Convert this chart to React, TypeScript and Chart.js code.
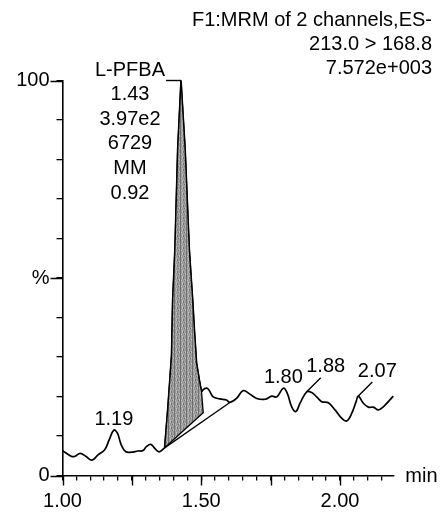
import React, { useEffect, useRef } from 'react';
import { Chart, registerables } from 'chart.js';

Chart.register(...registerables);

// ---- data ----
const traceTime = [
  1.000, 1.031, 1.043, 1.064, 1.085, 1.106, 1.128, 1.152, 1.168, 1.185, 1.198, 1.212, 1.228,
  1.248, 1.272, 1.290, 1.302, 1.318, 1.332, 1.348, 1.368,
  1.380, 1.393, 1.397, 1.405, 1.415, 1.427, 1.442, 1.457, 1.469, 1.476, 1.483, 1.493, 1.501,
  1.512, 1.525, 1.543, 1.567, 1.591, 1.603, 1.627, 1.651, 1.675, 1.700, 1.730, 1.754, 1.772,
  1.796, 1.810, 1.826, 1.841, 1.856, 1.880, 1.898, 1.916, 1.934, 1.958, 1.982, 2.006, 2.024,
  2.042, 2.058, 2.066, 2.084, 2.102, 2.120, 2.138, 2.156, 2.192,
];
const traceIntensity = [
  6.3, 4.9, 4.8, 5.6, 4.8, 3.9, 5.2, 6.5, 9.0, 11.5, 10.7, 7.7, 6.0,
  5.9, 6.2, 6.3, 7.3, 7.9, 6.9, 6.0, 7.0,
  17.5, 30.5, 44.4, 57.1, 82.4, 100, 82.4, 57.1, 44.4, 36.0, 28.5, 24.2, 21.2,
  22.0, 21.9, 19.9, 19.4, 19.1, 18.5, 19.5, 21.5, 20.6, 19.5, 19.3, 20.1, 19.9,
  22.1, 20.8, 17.4, 16.2, 18.3, 21.2, 21.0, 19.9, 18.7, 18.4, 16.6, 14.5, 13.8,
  15.7, 18.7, 20.1, 18.3, 17.3, 17.3, 16.6, 17.4, 20.1,
];
const peakStartTime = 1.368;
const peakEndTime = 1.501;
const areaCloseTime = [1.507, 1.368];
const areaCloseIntensity = [15.9, 7.0];
const baselineTime = [1.368, 1.603];
const baselineIntensity = [7.0, 18.5];

const peakLabelTime = [1.185, 1.796, 1.880, 2.066];
const peakLabelText = ['1.19', '1.80', '1.88', '2.07'];
const peakLabelLeader = [false, false, true, true];

const mainPeakTime = 1.427;
const mainPeakLines = ['L-PFBA', '1.43', '3.97e2', '6729', 'MM', '0.92'];
const headerLines = ['F1:MRM of 2 channels,ES-', '213.0 > 168.8', '7.572e+003'];

const xMin = 1.0;
const xMax = 2.192;
const xStep = 0.05;
const xLabelValues = [1.0, 1.5, 2.0];
const xMajorTicks = [1.0, 1.25, 1.5, 1.75, 2.0];
const xUnitLabel = 'min';

const yMin = 0;
const yMax = 100;
const yStep = 10;
const yLabelValues = [0, 50, 100];
const yLabelTexts = ['0', '%', '100'];

// ---- styling ----
const FONT = '"Liberation Sans", Arial, Helvetica, sans-serif';
const INK = '#000';

function makePattern(): CanvasPattern | string {
  const c = document.createElement('canvas');
  c.width = 6;
  c.height = 6;
  const g = c.getContext('2d');
  if (!g) return '#999';
  g.fillStyle = '#9c9c9c';
  g.fillRect(0, 0, 6, 6);
  g.fillStyle = '#6e6e6e';
  g.fillRect(0, 0, 1, 6);
  g.fillRect(3, 1, 1, 2);
  g.fillRect(4, 4, 1, 1);
  g.fillStyle = '#bdbdbd';
  g.fillRect(2, 0, 1, 3);
  g.fillRect(5, 3, 1, 2);
  g.fillRect(1, 4, 1, 1);
  const p = g.createPattern(c, 'repeat');
  return p || '#999';
}

const annotationPlugin = {
  id: 'annotations',
  afterDraw(chart: any) {
    const { ctx, chartArea } = chart;
    const xs = chart.scales.x;
    const ys = chart.scales.y;
    ctx.save();
    ctx.strokeStyle = INK;
    ctx.fillStyle = INK;

    // longer major tick marks
    ctx.lineWidth = 1.4;
    ctx.beginPath();
    xMajorTicks.forEach((v) => {
      const px = Math.round(xs.getPixelForValue(v)) + 0.5;
      ctx.moveTo(px, chartArea.bottom);
      ctx.lineTo(px, chartArea.bottom + 10);
    });
    yLabelValues.forEach((v) => {
      const py = Math.round(ys.getPixelForValue(v)) + 0.5;
      ctx.moveTo(chartArea.left, py);
      ctx.lineTo(chartArea.left - 12, py);
    });
    ctx.stroke();

    ctx.font = `20px ${FONT}`;
    ctx.textBaseline = 'middle';

    // header
    ctx.textAlign = 'right';
    headerLines.forEach((s, i) => ctx.fillText(s, chart.width - 12, 20 + i * 24.3));

    // main peak info block
    const ax = xs.getPixelForValue(mainPeakTime);
    const ay = ys.getPixelForValue(yMax);
    const cx = ax - 51;
    ctx.textAlign = 'center';
    mainPeakLines.forEach((s, i) => ctx.fillText(s, cx, ay - 10.5 + i * 24.6));
    const w0 = ctx.measureText(mainPeakLines[0]).width;
    ctx.lineWidth = 1.4;
    ctx.beginPath();
    ctx.moveTo(cx + w0 / 2 + 1, ay);
    ctx.lineTo(ax, ay);
    ctx.stroke();

    // other peak labels
    peakLabelTime.forEach((t, i) => {
      const idx = traceTime.indexOf(t);
      const px = xs.getPixelForValue(t);
      const py = ys.getPixelForValue(traceIntensity[idx]);
      if (peakLabelLeader[i]) {
        ctx.beginPath();
        ctx.moveTo(px, py);
        ctx.lineTo(px + 14, py - 14);
        ctx.stroke();
        ctx.fillText(peakLabelText[i], px + 19, py - 25);
      } else {
        ctx.fillText(peakLabelText[i], px, py - 11);
      }
    });

    // axis unit
    ctx.textAlign = 'left';
    ctx.fillText(xUnitLabel, chartArea.right + 12, chartArea.bottom + 1);
    ctx.restore();
  },
};

function pts(ts: number[], vs: number[]) {
  return ts.map((t, i) => ({ x: t, y: vs[i] }));
}

export default function App() {
  const ref = useRef<HTMLCanvasElement>(null);

  useEffect(() => {
    const canvas = ref.current;
    if (!canvas) return;
    const all = pts(traceTime, traceIntensity);
    const iStart = traceTime.indexOf(peakStartTime);
    const iEnd = traceTime.indexOf(peakEndTime);
    const pre = all.slice(0, iStart + 1);
    const peak = all.slice(iStart, iEnd + 1);
    const post = all.slice(iEnd);
    const area = [...peak, ...pts(areaCloseTime, areaCloseIntensity)];
    const baseline = pts(baselineTime, baselineIntensity);

    const lineBase = {
      pointRadius: 0,
      borderColor: INK,
      fill: false,
      clip: false as any,
    };

    const chart = new Chart(canvas, {
      type: 'line',
      data: {
        datasets: [
          { ...lineBase, data: area, fill: 'shape' as any, backgroundColor: makePattern() as any, borderWidth: 1.3, tension: 0 },
          { ...lineBase, data: baseline, borderWidth: 1.3, tension: 0 },
          { ...lineBase, data: pre, borderWidth: 1.7, tension: 0.4 },
          { ...lineBase, data: peak, borderWidth: 1.7, tension: 0 },
          { ...lineBase, data: post, borderWidth: 1.7, tension: 0.4 },
        ],
      },
      options: {
        responsive: false,
        animation: false,
        events: [],
        layout: { padding: { top: 80.5, right: 50.7, left: 0, bottom: 0 } },
        plugins: { legend: { display: false }, tooltip: { enabled: false } },
        scales: {
          x: {
            type: 'linear',
            min: xMin,
            max: xMax,
            afterFit: (s: any) => { s.height = 37.5; },
            grid: { display: true, drawOnChartArea: false, drawTicks: true, tickLength: 5, color: INK, lineWidth: 1.3 },
            border: { display: true, color: INK, width: 1.6 },
            ticks: {
              stepSize: xStep,
              includeBounds: false,
              autoSkip: false,
              maxRotation: 0,
              padding: 9,
              color: INK,
              font: { family: FONT, size: 20 },
              callback: (v: any) => {
                const n = Number(v);
                return xLabelValues.some((l) => Math.abs(l - n) < 1e-6) ? n.toFixed(2) : '';
              },
            },
          },
          y: {
            type: 'linear',
            min: yMin,
            max: yMax,
            afterFit: (s: any) => { s.width = 62.5; },
            grid: { display: true, drawOnChartArea: false, drawTicks: true, tickLength: 6, color: INK, lineWidth: 1.3 },
            border: { display: true, color: INK, width: 1.6 },
            ticks: {
              stepSize: yStep,
              autoSkip: false,
              padding: 7,
              color: INK,
              font: { family: FONT, size: 20 },
              callback: (v: any) => {
                const k = yLabelValues.findIndex((l) => Math.abs(l - Number(v)) < 1e-6);
                return k >= 0 ? yLabelTexts[k] : '';
              },
            },
          },
        },
      },
      plugins: [annotationPlugin],
    });
    return () => chart.destroy();
  }, []);

  return (
    <div style={{ position: 'absolute', left: 0, top: 0, width: 444, height: 513, background: '#fff' }}>
      <canvas ref={ref} width={444} height={513} style={{ display: 'block', width: 444, height: 513 }} />
    </div>
  );
}
